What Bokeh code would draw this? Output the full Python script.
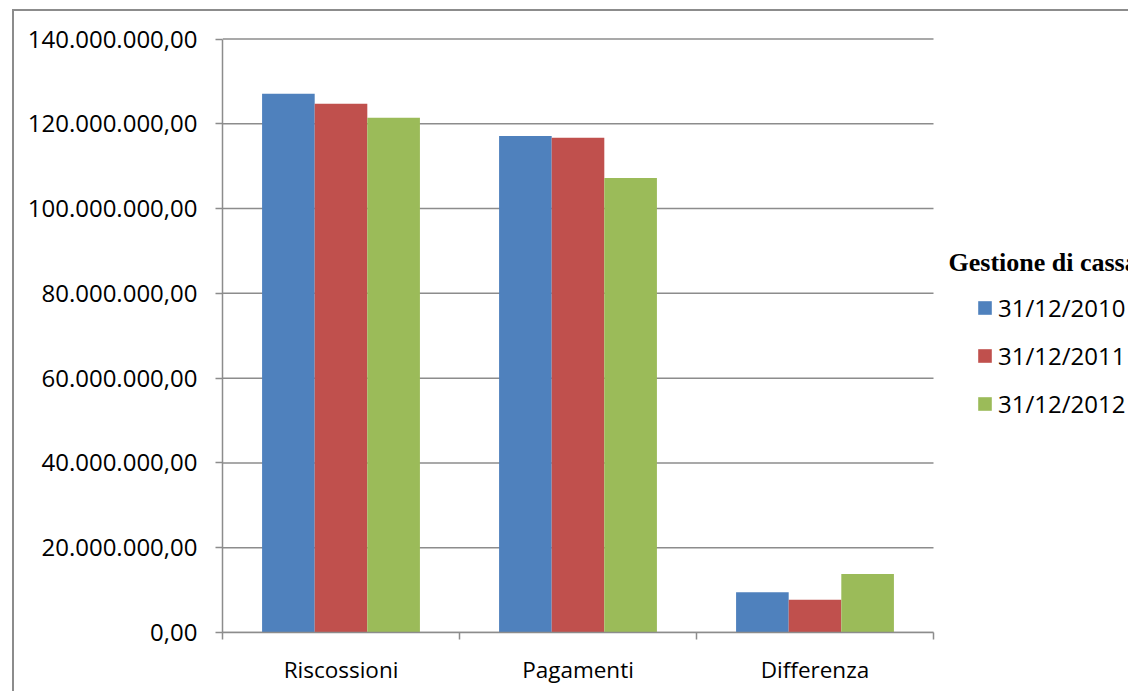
from bokeh.plotting import figure
from bokeh.models import Range1d, FixedTicker, Legend, LegendItem, Label, ColumnDataSource
from bokeh.embed import file_html
from bokeh.resources import INLINE

# ---- data ----
categories = ["Riscossioni", "Pagamenti", "Differenza"]
series_names = ["31/12/2010", "31/12/2011", "31/12/2012"]
values_2010 = [127100000, 117100000, 9500000]
values_2011 = [124700000, 116700000, 7700000]
values_2012 = [121400000, 107200000, 13800000]
colors = ["#4F81BD", "#C0504D", "#9BBB59"]
y_ticks = [0, 20000000, 40000000, 60000000, 80000000, 100000000, 120000000, 140000000]
y_tick_labels = ["0,00", "20.000.000,00", "40.000.000,00", "60.000.000,00",
                 "80.000.000,00", "100.000.000,00", "120.000.000,00", "140.000.000,00"]
legend_title = "Gestione di cassa"

series_values = [values_2010, values_2011, values_2012]
n_cat = len(categories)
y_max = y_ticks[-1]

GRAY = "#8c8c8c"
FONT = "Open Sans"

W, H = 1116, 682
LEFT, TOP, BOTTOM = 208, 26, 61
frame_w = W - LEFT
cat_px = 711  # pixel span of the three categories
x_end = n_cat * frame_w / cat_px
frame_h = H - TOP - BOTTOM
y_end = y_max * frame_h / (frame_h - 1.5)

p = figure(width=W, height=H, x_range=Range1d(0, x_end), y_range=Range1d(0, y_end),
           output_backend="svg", toolbar_location=None,
           min_border_left=LEFT, min_border_right=0, min_border_top=TOP, min_border_bottom=BOTTOM)
p.styles = {"margin-left": "12px", "margin-top": "9px",
            "border-left": "2px solid #8c8c8c", "border-top": "2px solid #8c8c8c"}
p.outline_line_color = None
p.background_fill_color = "white"
p.border_fill_color = "white"
p.xgrid.visible = False
p.ygrid.visible = False

# horizontal gridlines limited to the category area
p.segment(x0=[0] * len(y_ticks), x1=[n_cat] * len(y_ticks), y0=y_ticks, y1=y_ticks,
          line_color=GRAY, line_width=1.5)

# y axis
yax = p.yaxis[0]
yax.bounds = (0, y_max)
yax.ticker = FixedTicker(ticks=y_ticks, minor_ticks=[])
yax.major_label_overrides = dict(zip(y_ticks, y_tick_labels))
yax.axis_line_color = GRAY
yax.axis_line_width = 1.5
yax.major_tick_line_color = GRAY
yax.major_tick_line_width = 1.5
yax.major_tick_out = 7
yax.major_tick_in = 0
yax.minor_tick_line_color = None
yax.major_label_standoff = 18
yax.major_label_text_font = FONT
yax.major_label_text_font_size = "24px"
yax.major_label_text_color = "black"

# x axis: labels at category centres, tick marks at boundaries
xax = p.xaxis[0]
xax.bounds = (0, n_cat)
centers = [i + 0.5 for i in range(n_cat)]
bounds = [float(i) for i in range(n_cat + 1)]
xax.ticker = FixedTicker(ticks=centers, minor_ticks=bounds)
xax.major_label_overrides = dict(zip(centers, categories))
xax.axis_line_color = GRAY
xax.axis_line_width = 1.5
xax.major_tick_line_color = None
xax.major_tick_out = 0
xax.major_tick_in = 0
xax.minor_tick_line_color = GRAY
xax.minor_tick_line_width = 1.5
xax.minor_tick_out = 7
xax.minor_tick_in = 0
xax.major_label_standoff = 14
xax.major_label_text_font = FONT
xax.major_label_text_font_size = "22.5px"
xax.major_label_text_color = "black"

bar_w = 0.222
offsets = [-bar_w, 0.0, bar_w]
renderers = []
for name, vals, col, off in zip(series_names, series_values, colors, offsets):
    src = ColumnDataSource(dict(x=[c + off for c in centers], top=vals))
    r = p.vbar(x="x", top="top", bottom=0, width=bar_w, source=src,
               fill_color=col, line_color=None)
    renderers.append(r)

item_h = 34
legend = Legend(items=[LegendItem(label=n, renderers=[r]) for n, r in zip(series_names, renderers)],
                location=(754, 229 - item_h // 2), orientation="vertical",
                padding=0, margin=0, spacing=14,
                glyph_width=17, glyph_height=17, label_height=item_h, label_standoff=5,
                label_text_font=FONT, label_text_font_size="24px", label_text_color="black",
                border_line_color=None, background_fill_alpha=0)
p.add_layout(legend)

title = Label(x=726, y=370, x_units="screen", y_units="screen", text=legend_title,
              text_font="Liberation Serif", text_font_style="bold", text_font_size="26px",
              text_baseline="middle", text_align="left", text_color="black")
p.add_layout(title)

open("out.html", "w").write(file_html(p, INLINE))
